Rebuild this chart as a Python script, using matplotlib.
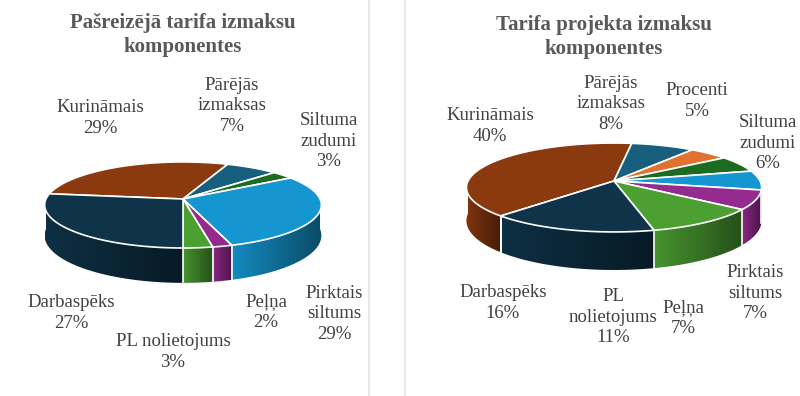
import numpy as np
import matplotlib.pyplot as plt
from matplotlib.colors import to_rgb
from matplotlib.patches import Polygon

plt.rcParams['font.family'] = ['Liberation Serif', 'DejaVu Serif']

# data: slices go clockwise in this order
cats_old = ['Kurināmais', 'Pārējās izmaksas', 'Siltuma zudumi', 'Pirktais siltums',
            'Peļņa', 'PL nolietojums', 'Darbaspēks']
vals_old = [29, 7, 3, 29, 2, 3, 27]

cats_new = ['Kurināmais', 'Pārējās izmaksas', 'Procenti', 'Siltuma zudumi',
            'Pirktais siltums', 'Peļņa', 'PL nolietojums', 'Darbaspēks']
vals_new = [40, 8, 5, 6, 7, 7, 11, 16]

title_old = 'Pašreizējā tarifa izmaksu\nkomponentes'
title_new = 'Tarifa projekta izmaksu\nkomponentes'

colors = {
    'Kurināmais': '#8b3a0f',
    'Pārējās izmaksas': '#185f7e',
    'Procenti': '#e0712f',
    'Siltuma zudumi': '#1c6b21',
    'Pirktais siltums': '#1596d0',
    'Peļņa': '#952a8f',
    'PL nolietojums': '#4ca032',
    'Darbaspēks': '#0f3449',
}

# how the label text is wrapped on each chart
wrap_old = {'Pārējās izmaksas': 'Pārējās\nizmaksas', 'Siltuma zudumi': 'Siltuma\nzudumi',
            'Pirktais siltums': 'Pirktais\nsiltums'}
wrap_new = dict(wrap_old, **{'PL nolietojums': 'PL\nnolietojums'})

# layout (pixels)
geo_old = dict(cx=183, cy=199, a=137, b=42.2, h=30, k=0.139, start=172.8)
geo_new = dict(cx=614, cy=181, a=146, b=43.5, h=32.5, k=0.146, start=226)

lab_old = {'Kurināmais': (100, 118), 'Pārējās izmaksas': (232, 106),
           'Siltuma zudumi': (329, 141), 'Pirktais siltums': (334, 314),
           'Peļņa': (266, 312), 'PL nolietojums': (173, 352), 'Darbaspēks': (71, 313)}
lab_new = {'Kurināmais': (490, 126), 'Pārējās izmaksas': (611, 104),
           'Procenti': (697, 101), 'Siltuma zudumi': (768, 143),
           'Pirktais siltums': (755, 293), 'Peļņa': (683, 318),
           'PL nolietojums': (613, 317), 'Darbaspēks': (503, 303)}


def proj(t, z, g):
    s = 1.0 / (1.0 + g['k'] * np.sin(t))
    x = g['cx'] + g['a'] * np.cos(t) * s
    y = g['cy'] - g['b'] * np.sin(t) * s + g['h'] * z * s
    return x, y


def pie3d(ax, cats, vals, g):
    fr = np.asarray(vals, float) / np.sum(vals)
    edges = np.radians(g['start'] - 360 * np.concatenate([[0], np.cumsum(fr)]))

    # side walls, only the front half is seen; shaded light -> dark left to right
    for i, c in enumerate(cats):
        base = np.array(to_rgb(colors[c]))
        t_hi, t_lo = edges[i], edges[i + 1]
        for n in range(-2, 3):
            lo = max(t_lo, np.pi + 2 * np.pi * n)
            hi = min(t_hi, 2 * np.pi + 2 * np.pi * n)
            if hi <= lo:
                continue
            ts = np.linspace(lo, hi, 60)
            xt, yt = proj(ts, 0, g)
            xb, yb = proj(ts[::-1], 1, g)
            xs = np.concatenate([xt, xb])
            ys = np.concatenate([yt, yb])
            poly = Polygon(np.column_stack([xs, ys]), closed=True,
                           facecolor='none', edgecolor='none')
            ax.add_patch(poly)
            f = np.linspace(0.92, 0.5, 64)
            grad = np.clip(base[None, None, :] * f[None, :, None], 0, 1)
            im = ax.imshow(grad, extent=(xs.min(), xs.max(), ys.max(), ys.min()),
                           aspect='auto', interpolation='bilinear', zorder=1)
            im.set_clip_path(poly)
    for t in edges:
        if np.sin(t) < 0:
            x0, y0 = proj(t, 0, g)
            x1, y1 = proj(t, 1, g)
            ax.plot([x0, x1], [y0, y1], color='white', lw=1.2, zorder=2)

    # top face
    for i, c in enumerate(cats):
        ts = np.linspace(edges[i], edges[i + 1], 80)
        xs, ys = proj(ts, 0, g)
        xs = np.concatenate([[g['cx']], xs])
        ys = np.concatenate([[g['cy']], ys])
        ax.fill(xs, ys, facecolor=colors[c], edgecolor='white', lw=1.2, zorder=3)


def labels(ax, cats, vals, pos, wrap):
    for c, v in zip(cats, vals):
        x, y = pos[c]
        ax.text(x, y, f'{wrap.get(c, c)}\n{v}%', ha='center', va='center',
                fontsize=13.5, color='#404040', linespacing=1.25, zorder=5)


fig = plt.figure(figsize=(8, 3.96), dpi=100)
ax = fig.add_axes([0, 0, 1, 1])

ax.axvline(369, color='#e4e4e4', lw=1.2)
ax.axvline(405, color='#e4e4e4', lw=1.2)

pie3d(ax, cats_old, vals_old, geo_old)
pie3d(ax, cats_new, vals_new, geo_new)
labels(ax, cats_old, vals_old, lab_old, wrap_old)
labels(ax, cats_new, vals_new, lab_new, wrap_new)

ax.text(183, 35, title_old, ha='center', va='center', fontsize=15,
        fontweight='bold', color='#595959', linespacing=1.25)
ax.text(604, 37, title_new, ha='center', va='center', fontsize=15,
        fontweight='bold', color='#595959', linespacing=1.25)

ax.set_xlim(0, 800)
ax.set_ylim(396, 0)
ax.axis('off')

fig.savefig('out.png', dpi=100)
